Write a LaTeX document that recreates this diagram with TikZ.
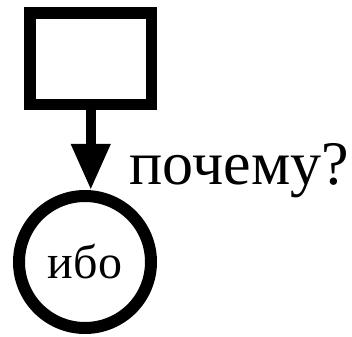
\documentclass[tikz,border=0pt]{standalone}
\usepackage{fontspec}
\setmainfont{Liberation Serif}
\usetikzlibrary{arrows.meta}

\begin{document}
\begin{tikzpicture}[
  x=1pt,y=-1pt,
  block/.style={draw,rectangle,line width=11.5pt,minimum width=121.5pt,minimum height=91.5pt},
  reason/.style={draw,circle,line width=12pt,minimum size=132pt,inner sep=0pt,font=\fontsize{48}{48}\selectfont},
  >={Triangle[width=37pt,length=46pt]}
]
  \useasboundingbox (0,0) rectangle (352,336);

  % Box and circle.
  \node[block] (box) at (90.75,58.75) {};
  \node[reason] (circ) at (85,262) {ибо};

  % Connector with its question.
  \draw[->,line width=10pt] (box.south) -- (box.south |- circ.north)
    node[pos=0.935,anchor=base west,inner sep=0pt,xshift=34pt,
      font=\fontsize{62}{62}\selectfont] (why) {почему?};
\end{tikzpicture}
\end{document}
